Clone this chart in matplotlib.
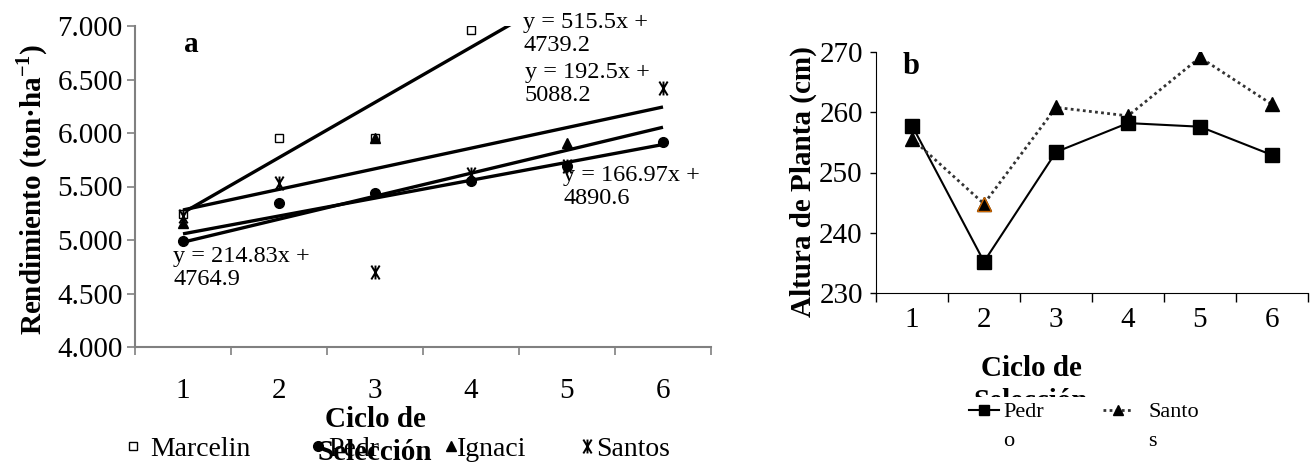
import matplotlib
matplotlib.use('Agg')
import matplotlib.pyplot as plt
import numpy as np
from matplotlib.path import Path
from matplotlib.ticker import FuncFormatter
from matplotlib.transforms import Bbox, TransformedBbox

plt.rcParams['font.family'] = ['Liberation Serif', 'DejaVu Serif']
plt.rcParams['mathtext.fontset'] = 'custom'
plt.rcParams['mathtext.rm'] = 'Liberation Serif'
plt.rcParams['mathtext.bf'] = 'Liberation Serif:bold'

# ---- datos panel a: rendimiento ----
ciclos = [1, 2, 3, 4, 5, 6]
marcelino_x = [1, 2, 3, 4]
marcelino = [5240, 5955, 5950, 6965]
pedro_a = [4990, 5345, 5440, 5555, 5690, 5920]
ignacio_x = [1, 3, 5]
ignacio = [5160, 5950, 5905]
santos_a = [5220, 5535, 4705, 5615, 5695, 6420]
nombres_a = ['Marcelin', 'Pedr', 'Ignaci', 'Santos']

# tendencias lineales (pendiente, intercepto)
pendientes = [515.5, 166.97, 192.5, 214.83]
interceptos = [4739.2, 4890.6, 5088.2, 4764.9]

# ---- datos panel b: altura de planta ----
pedro_b = [257.8, 235.2, 253.4, 258.2, 257.6, 252.9]
santos_b = [255.6, 244.8, 260.8, 259.4, 269.1, 261.3]
nombres_b = ['Pedr', 'Santo']
restos_b = ['o', 's']   # el texto de la leyenda sale partido en dos lineas

W, H = 1312, 468
fig = plt.figure(figsize=(W / 100, H / 100), dpi=100)


def fx(x):
    return x / W


def fy(y):
    return 1 - y / H


gris = '#808080'

# marcador tipo "ж" de Excel
estrella = Path([(-0.6, -1), (0.6, 1), (-0.6, 1), (0.6, -1), (0, -1), (0, 1)],
                [Path.MOVETO, Path.LINETO, Path.MOVETO, Path.LINETO, Path.MOVETO, Path.LINETO])

# ================= panel a =================
axa = fig.add_axes([fx(135), fy(347), 576 / W, 321 / H])
ha = []
ha += axa.plot(marcelino_x, marcelino, ls='none', marker='s', ms=6, mfc='white',
               mec='black', mew=1.0, zorder=3)
ha += axa.plot(ciclos, pedro_a, ls='none', marker='o', ms=7, color='black', zorder=3)
ha += axa.plot(ignacio_x, ignacio, ls='none', marker='^', ms=7, color='black', zorder=3)
ha += axa.plot(ciclos, santos_a, ls='none', marker=estrella, ms=10, color='black',
               mew=1.4, zorder=3)

xs = np.array([ciclos[0], ciclos[-1]])
for m, b in zip(pendientes, interceptos):
    axa.plot(xs, m * xs + b, color='black', lw=2.4, solid_capstyle='butt', zorder=2)

axa.set_xlim(0.5, 6.5)
axa.set_ylim(4000, 7000)
axa.set_xticks(np.arange(0.5, 7, 1))
axa.set_xticklabels([])
axa.set_xticks(ciclos, minor=True)
axa.set_xticklabels([str(c) for c in ciclos], minor=True)
axa.set_yticks(np.arange(4000, 7001, 500))
axa.yaxis.set_major_formatter(FuncFormatter(lambda v, p: f'{v:,.0f}'.replace(',', '.')))
axa.tick_params(axis='x', which='major', direction='out', length=5.8, color=gris, width=1.2)
axa.tick_params(axis='x', which='minor', length=0, pad=22, labelsize=21)
axa.tick_params(axis='y', direction='out', length=5.8, color=gris, width=1.2, pad=3,
                labelsize=21)
for s in ['top', 'right']:
    axa.spines[s].set_visible(False)
for s in ['left', 'bottom']:
    axa.spines[s].set_color(gris)
    axa.spines[s].set_linewidth(1.5)

fig.text(fx(32), fy(189), 'Rendimiento (ton·ha$^{\\mathbf{-1}}$)', rotation=90,
         ha='center', va='center', fontsize=21, fontweight='bold')
fig.text(fx(191), fy(45), 'a', ha='center', va='center', fontsize=21, fontweight='bold')

eq_pos = [(523, 12), (563, 165), (525, 62), (173, 246)]
for (m, b), (px, py) in zip(zip(pendientes, interceptos), eq_pos):
    fig.text(fx(px), fy(py), f'y = {m:g}x +\n{b:g}', ha='left', va='top', fontsize=17.5,
             linespacing=1.15)

fig.text(fx(375), fy(406), 'Ciclo de\nSelección', ha='center', va='top', fontsize=21,
         fontweight='bold', linespacing=1.3)

anc_a = [129, 314, 447, 583]
pads_a = [0.46, 0.2, 0.07, 0.17]
for h, nom, ax0, pd in zip(ha, nombres_a, anc_a, pads_a):
    fig.legend([h], [nom], loc='center left', bbox_to_anchor=(fx(ax0), fy(449)),
               frameon=False, borderpad=0, borderaxespad=0, handlelength=0.3,
               handletextpad=pd, fontsize=20)

# ================= panel b =================
axb = fig.add_axes([fx(876), fy(293), 432 / W, 241 / H])
hb = []
hb += axb.plot(ciclos, pedro_b, color='black', lw=1.5, marker='s', ms=10, zorder=3)
hb += axb.plot(ciclos, santos_b, color='#333333', lw=2, ls=(0, (1, 1.2)), marker='^',
               ms=10, mfc='black', mec='black', zorder=3)
axb.plot(ciclos[1], santos_b[1], ls='none', marker='^', ms=10, mfc='black',
         mec='#cc6600', mew=1.0, zorder=4)

axb.set_xlim(0.5, 6.5)
axb.set_ylim(230, 270)
axb.set_xticks(np.arange(0.5, 7, 1))
axb.set_xticklabels([])
axb.set_xticks(ciclos, minor=True)
axb.set_xticklabels([str(c) for c in ciclos], minor=True)
axb.set_yticks(np.arange(230, 271, 10))
axb.tick_params(axis='x', which='major', direction='out', length=6.5, width=1)
axb.tick_params(axis='x', which='minor', length=0, pad=10, labelsize=21)
axb.tick_params(axis='y', direction='out', length=4.5, width=1, pad=5, labelsize=21)
for s in ['top', 'right']:
    axb.spines[s].set_visible(False)

fig.text(fx(803), fy(182), 'Altura de Planta (cm)', rotation=90, ha='center',
         va='center', fontsize=21, fontweight='bold')
fig.text(fx(911), fy(67), 'b', ha='center', va='center', fontsize=22, fontweight='bold')

tb = fig.text(fx(1031), fy(355), 'Ciclo de\nSelección', ha='center', va='top',
              fontsize=21, fontweight='bold', linespacing=1.3)
tb.set_clip_box(TransformedBbox(Bbox([[0, fy(397)], [1, 1]]), fig.transFigure))

anc_b = [969, 1103]
pads_b = [0.18, 0.68]
for h, nom, resto, ax0, pd in zip(hb, nombres_b, restos_b, anc_b, pads_b):
    lg = fig.legend([h], [nom], loc='center left', bbox_to_anchor=(fx(ax0), fy(412)),
                    frameon=False, borderpad=0, borderaxespad=0, handlelength=1.35,
                    handletextpad=pd, fontsize=16, markerscale=0.65)
    x_txt = ax0 + (1.35 + pd) * 16 * 100 / 72
    fig.text(fx(x_txt), fy(446), resto, ha='left', va='baseline', fontsize=16)

fig.savefig('out.png', dpi=100)
